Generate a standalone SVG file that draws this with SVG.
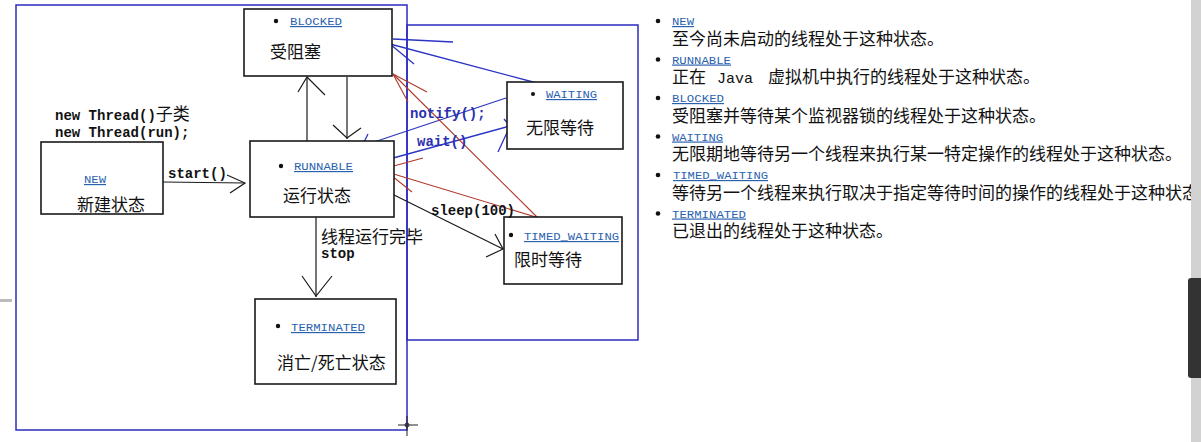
<svg xmlns="http://www.w3.org/2000/svg" width="1201" height="442" viewBox="0 0 1201 442">
<style>
.box{fill:#fff;stroke:#1a1a1a;stroke-width:1.6}
.frame{fill:none;stroke:#2b2bc0;stroke-width:1.5}
.cn{font-family:"Noto Sans CJK SC","Noto Sans",sans-serif;font-size:17px;fill:#111}
.code{font-family:"Liberation Mono","DejaVu Sans Mono",monospace;font-size:14px;font-weight:bold;fill:#111}
.bcode{font-family:"Liberation Mono","DejaVu Sans Mono",monospace;font-size:14px;font-weight:bold;fill:#2a30b0}
.link{font-family:"Liberation Mono","DejaVu Sans Mono",monospace;font-size:11.8px;fill:#2a62b0;text-decoration:underline}
.dot{fill:#111}
.k{stroke:#1a1a1a;stroke-width:1.2;fill:none}
.b{stroke:#2a35c4;stroke-width:1.3;fill:none}
.r{stroke:#b0382a;stroke-width:1.1;fill:none}
</style>
<rect width="1201" height="442" fill="#fff"/>

<g id="frames">
<rect class="frame" x="16" y="5" width="391" height="425"/>
<rect class="frame" x="407" y="25" width="231" height="315"/>
</g>

<g id="connectors">
<!-- start() -->
<line class="k" x1="163" y1="182" x2="245" y2="183" stroke-width="2"/>
<polyline class="k" points="227,175 245,183 230,193"/>
<!-- RUNNABLE -> BLOCKED -->
<line class="k" x1="307" y1="141" x2="307" y2="77"/>
<polyline class="k" points="298,92 307,77 325,95"/>
<!-- BLOCKED -> RUNNABLE -->
<line class="k" x1="347" y1="77" x2="347" y2="139"/>
<polyline class="k" points="333,125 347,138 361,128"/>
<!-- RUNNABLE -> TERMINATED -->
<line class="k" x1="316" y1="217" x2="316" y2="297"/>
<polyline class="k" points="302,276 316,296 332,276"/>
<!-- sleep(100) -->
<line class="k" x1="388" y1="192" x2="503" y2="249"/>
<polyline class="k" points="495,234 503,249 486,257"/>
<!-- blue: WAITING -> BLOCKED -->
<line class="b" x1="393" y1="39" x2="453" y2="42"/>
<line class="b" x1="537" y1="83" x2="390" y2="44"/>
<line class="b" x1="390" y1="44" x2="414" y2="64"/>
<!-- notify(): WAITING -> RUNNABLE -->
<line class="b" x1="506" y1="98" x2="362" y2="146"/>
<polyline class="b" points="368,134 362,146 378,155"/>
<!-- wait(): RUNNABLE -> WAITING -->
<line class="b" x1="375" y1="163" x2="510" y2="126"/>
<polyline class="b" points="504,119 510,126 498,152"/>
<!-- red: TIMED_WAITING -> BLOCKED -->
<line class="r" x1="539" y1="219" x2="393" y2="74"/>
<line class="r" x1="393" y1="74" x2="427" y2="92"/>
<line class="r" x1="393" y1="74" x2="408" y2="102"/>
<!-- red: TIMED_WAITING -> RUNNABLE -->
<line class="r" x1="539" y1="218" x2="387" y2="172"/>
<line class="r" x1="390" y1="167" x2="423" y2="158"/>
<line class="r" x1="387" y1="172" x2="412" y2="192"/>
</g>

<g id="node-blocked">
<rect class="box" x="244" y="9" width="148" height="67"/>
<circle class="dot" cx="276" cy="21" r="2.2"/>
<text class="link" x="290" y="25" textLength="52" lengthAdjust="spacingAndGlyphs">BLOCKED</text>
<text class="cn" x="270" y="58">受阻塞</text>
</g>

<g id="node-new">
<rect class="box" x="41" y="142" width="122" height="72"/>
<text class="link" x="84" y="183" textLength="22" lengthAdjust="spacingAndGlyphs">NEW</text>
<text class="cn" x="77" y="211">新建状态</text>
</g>

<g id="label-new">
<text class="code" x="55" y="120">new Thread()<tspan class="cn" font-weight="normal" font-size="16px">子类</tspan></text>
<text class="code" x="55" y="137">new Thread(run);</text>
<text class="code" x="168" y="178">start()</text>
</g>

<g id="node-runnable">
<rect class="box" x="250" y="141" width="144" height="76"/>
<circle class="dot" cx="281" cy="166" r="2.2"/>
<text class="link" x="294" y="170" textLength="59" lengthAdjust="spacingAndGlyphs">RUNNABLE</text>
<text class="cn" x="283" y="202">运行状态</text>
</g>

<g id="node-waiting">
<rect class="box" x="507" y="82" width="116" height="67"/>
<circle class="dot" cx="533" cy="94" r="2"/>
<text class="link" x="546" y="98" textLength="51" lengthAdjust="spacingAndGlyphs">WAITING</text>
<text class="cn" x="526" y="134">无限等待</text>
</g>

<g id="node-timed-waiting">
<rect class="box" x="504" y="217" width="118" height="67"/>
<circle class="dot" cx="511" cy="235" r="2.2"/>
<text class="link" x="524" y="240" textLength="95" lengthAdjust="spacingAndGlyphs">TIMED_WAITING</text>
<text class="cn" x="514" y="266">限时等待</text>
</g>

<g id="node-terminated">
<rect class="box" x="255" y="299" width="141" height="85"/>
<circle class="dot" cx="278" cy="326" r="2.2"/>
<text class="link" x="291" y="331" textLength="74" lengthAdjust="spacingAndGlyphs">TERMINATED</text>
<text class="cn" x="277" y="369">消亡/死亡状态</text>
</g>

<g id="labels">
<text class="bcode" x="410" y="118">notify();</text>
<text class="bcode" x="417" y="146">wait()</text>
<text class="code" x="431" y="215">sleep(100)</text>
<text class="cn" x="321" y="243">线程运行完毕</text>
<text class="code" x="321" y="258">stop</text>
</g>

<g id="legend">
<circle class="dot" cx="658" cy="21" r="2.3"/>
<text class="link" x="672" y="25" textLength="22" lengthAdjust="spacingAndGlyphs">NEW</text>
<text class="cn" x="672" y="44.5">至今尚未启动的线程处于这种状态。</text>
<circle class="dot" cx="658" cy="59.5" r="2.3"/>
<text class="link" x="672" y="63.5" textLength="59" lengthAdjust="spacingAndGlyphs">RUNNABLE</text>
<text class="cn" x="672" y="83">正在<tspan x="717" font-family="Liberation Mono, monospace" font-size="15px">Java</tspan><tspan x="768">虚拟机中执行的线程处于这种状态。</tspan></text>
<circle class="dot" cx="658" cy="98" r="2.3"/>
<text class="link" x="672" y="102" textLength="52" lengthAdjust="spacingAndGlyphs">BLOCKED</text>
<text class="cn" x="672" y="121.5">受阻塞并等待某个监视器锁的线程处于这种状态。</text>
<circle class="dot" cx="658" cy="136.5" r="2.3"/>
<text class="link" x="672" y="140.5" textLength="51" lengthAdjust="spacingAndGlyphs">WAITING</text>
<text class="cn" x="672" y="160">无限期地等待另一个线程来执行某一特定操作的线程处于这种状态。</text>
<circle class="dot" cx="658" cy="175" r="2.3"/>
<text class="link" x="673" y="179" textLength="95" lengthAdjust="spacingAndGlyphs">TIMED_WAITING</text>
<text class="cn" x="672" y="198.5">等待另一个线程来执行取决于指定等待时间的操作的线程处于这种状态。</text>
<circle class="dot" cx="658" cy="213.5" r="2.3"/>
<text class="link" x="672" y="217.5" textLength="74" lengthAdjust="spacingAndGlyphs">TERMINATED</text>
<text class="cn" x="672" y="237">已退出的线程处于这种状态。</text>
</g>

<g id="screen-chrome">
<rect x="1191" y="0" width="10" height="442" fill="#d2d2d2"/>
<rect x="1188" y="278" width="16" height="100" rx="3" fill="#333"/>
<rect x="0" y="299" width="12" height="3" fill="#bbb"/>
<g stroke="#222" stroke-width="1" fill="none">
<line x1="398" y1="425" x2="418" y2="425"/>
<line x1="407" y1="416" x2="407" y2="436"/>
<circle cx="407" cy="425" r="2"/>
</g>
</g>
</svg>
